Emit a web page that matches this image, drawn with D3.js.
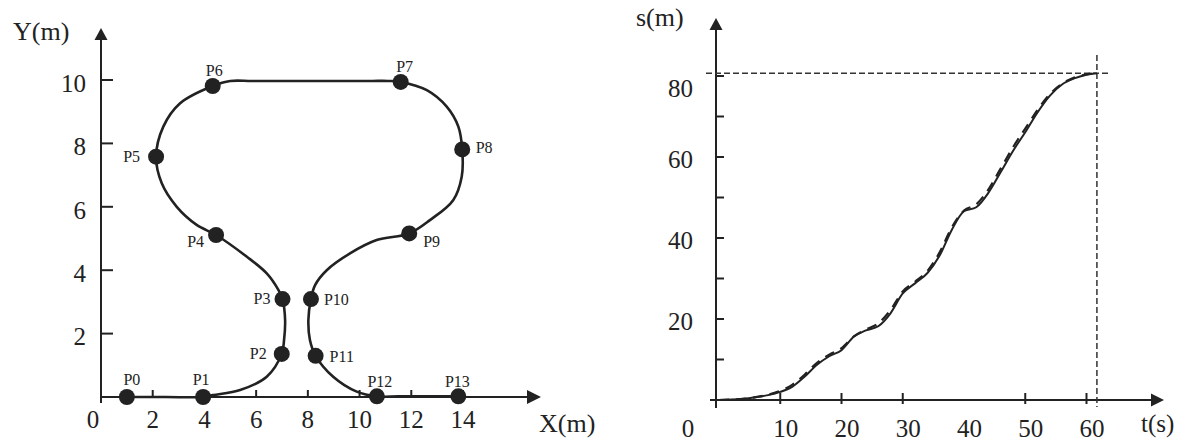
<!DOCTYPE html>
<html>
<head>
<meta charset="utf-8">
<script src="https://cdn.jsdelivr.net/npm/d3@7"></script>
<style>
  html, body { margin: 0; padding: 0; background: #fff; }
  svg { display: block; font-family: "Liberation Serif", "Times New Roman", serif; }
</style>
</head>
<body>
<svg id="chart" width="1185" height="441"></svg>
<script>
// ---------- Route (left panel), metres ----------
const stationNames = ["P0", "P1", "P2", "P3", "P4", "P5", "P6", "P7", "P8", "P9", "P10", "P11", "P12", "P13"];
const stationX = [1, 3.95, 6.99, 7.02, 4.45, 2.13, 4.32, 11.59, 13.97, 11.92, 8.12, 8.3, 10.67, 13.82];
const stationY = [0, 0, 1.36, 3.09, 5.11, 7.58, 9.81, 9.94, 7.81, 5.16, 3.09, 1.3, 0.02, 0.02];

// Centre-line samples of the route, stations included
const routeX = [1, 2.5, 3.95, 4.34, 5.38, 6.41, 6.99, 7.08, 7.12, 7.02, 6.86, 6.41, 5.63, 4.45, 3.7, 2.93, 2.35, 2.13,
  2.41, 3.05, 4.32, 5.0, 5.8, 6.6, 7.4, 8.2, 9.0, 9.8, 10.5, 11.1, 11.59, 12.6, 13.37, 13.82, 13.97, 13.95, 13.62, 12.72,
  11.92, 10.66, 9.63, 8.73, 8.28, 8.12, 8.02, 8.08, 8.3, 8.98, 9.89, 10.67, 11.5, 12.3, 13.1, 13.82];
const routeY = [0, 0, 0, 0.06, 0.22, 0.64, 1.36, 1.8, 2.43, 3.09, 3.38, 3.9, 4.43, 5.11, 5.43, 6.0, 6.74, 7.58,
  8.53, 9.26, 9.81, 9.97, 9.97, 9.97, 9.97, 9.97, 9.97, 9.97, 9.97, 9.97, 9.94, 9.68, 9.16, 8.53, 7.81, 6.95, 6.21, 5.58,
  5.16, 4.95, 4.53, 4.0, 3.53, 3.09, 2.43, 1.8, 1.3, 0.64, 0.17, 0.02, 0.02, 0.02, 0.02, 0.02];

const routeXTicks = [2, 4, 6, 8, 10, 12, 14];
const routeYTicks = [2, 4, 6, 8, 10];

// ---------- Distance over time (right panel) ----------
const timeS = [0, 2, 4, 6, 8, 10, 12, 14, 16, 18, 20, 22, 24, 26, 28, 30, 32, 34, 36, 38, 40, 42, 44, 46, 48, 50, 52, 54, 56, 58, 60, 61.7];
const distActual = [0, 0.1, 0.3, 0.7, 1.2, 2.0, 3.3, 5.8, 8.7, 10.8, 12.3, 15.6, 17.2, 18.2, 21.4, 26.3, 28.8, 31.3, 35.6, 42.0, 46.6, 47.6, 51.2, 56.3, 61.5, 66.1, 71.0, 75.1, 77.9, 79.4, 80.3, 80.7];
const distPlanned = [0, 0.1, 0.3, 0.7, 1.3, 2.3, 3.8, 6.3, 9.2, 11.2, 12.8, 15.7, 17.4, 18.9, 22.2, 26.8, 29.2, 31.8, 36.4, 42.6, 46.8, 48.3, 52.0, 57.2, 62.4, 67.0, 71.6, 75.5, 78.1, 79.6, 80.4, 80.7];

const timeTicks = [10, 20, 30, 40, 50, 60];
const timeTickMarks = [10, 20, 30, 50, 60];
const distTickMarks = [10, 20, 30, 40, 50, 60, 70, 80];
const distTickLabels = [20, 40, 60, 80];
const endTime = 61.7;
const endDist = 80.7;

// ---------- Drawing ----------
const ink = "#222";
const svg = d3.select("#chart");

function arrow(g, pts) {
  g.append("path").attr("d", "M" + pts.map(p => p.join(",")).join("L") + "Z").attr("fill", ink);
}
function label(g, x, y, txt, size, anchor) {
  return g.append("text").attr("x", x).attr("y", y)
    .attr("text-anchor", anchor || "start")
    .style("font-size", size + "px").attr("fill", ink).text(txt);
}

// ===== Left panel: route in the plane =====
const xR = d3.scaleLinear().domain([0, 14]).range([101, 463]);
const yR = d3.scaleLinear().domain([0, 10]).range([397, 80]);
const L = svg.append("g");

// axes
L.append("line").attr("x1", xR(0)).attr("x2", xR(0)).attr("y1", yR(0) + 6).attr("y2", 39)
  .attr("stroke", ink).attr("stroke-width", 2);
arrow(L, [[xR(0), 28], [xR(0) - 6.5, 40], [xR(0) + 6.5, 40]]);
L.append("line").attr("x1", xR(0)).attr("x2", 528).attr("y1", yR(0)).attr("y2", yR(0))
  .attr("stroke", ink).attr("stroke-width", 2);
arrow(L, [[541, yR(0)], [527, yR(0) - 7], [527, yR(0) + 7]]);

L.selectAll(".xt").data(routeXTicks).join("line")
  .attr("x1", d => xR(d)).attr("x2", d => xR(d)).attr("y1", yR(0)).attr("y2", yR(0) - 7)
  .attr("stroke", ink).attr("stroke-width", 2);
L.selectAll(".yt").data(routeYTicks).join("line")
  .attr("x1", xR(0)).attr("x2", xR(0) + 12).attr("y1", d => yR(d)).attr("y2", d => yR(d))
  .attr("stroke", ink).attr("stroke-width", 2);

L.selectAll(".xl").data(routeXTicks).join("text")
  .attr("x", d => xR(d)).attr("y", 428).attr("text-anchor", "middle")
  .style("font-size", "25px").attr("fill", ink).text(d => d);
L.selectAll(".yl").data(routeYTicks).join("text")
  .attr("x", 86).attr("y", d => yR(d) + 3).attr("dy", "0.35em").attr("text-anchor", "end")
  .style("font-size", "25px").attr("fill", ink).text(d => d);
label(L, 93, 428, "0", 25, "middle");
label(L, 13, 40, "Y(m)", 26);
label(L, 539, 432, "X(m)", 26);

// route line
const routePts = routeX.map((x, i) => [x, routeY[i]]);
L.append("path").datum(routePts)
  .attr("d", d3.line().x(d => xR(d[0])).y(d => yR(d[1])).curve(d3.curveCatmullRom.alpha(0.5)))
  .attr("fill", "none").attr("stroke", ink).attr("stroke-width", 2.6);

// stations
const stations = stationNames.map((n, i) => ({ name: n, x: stationX[i], y: stationY[i] }));
L.selectAll(".st").data(stations).join("circle")
  .attr("cx", d => xR(d.x)).attr("cy", d => yR(d.y)).attr("r", 8).attr("fill", ink);

// label placement around each station: [dx, dy, anchor]
const stationLabelPos = [
  [5, -12, "middle"], [-2, -12, "middle"], [-15, 5.5, "end"], [-12, 5, "end"],
  [-12, 11.5, "end"], [-16, 5.5, "end"], [1.5, -10, "middle"], [4, -9.5, "middle"],
  [13.5, 4, "start"], [14, 13.5, "start"], [13, 6, "start"], [14, 6, "start"],
  [3, -9.7, "middle"], [-1, -9.7, "middle"]
];
L.selectAll(".sl").data(stations).join("text")
  .attr("x", (d, i) => xR(d.x) + stationLabelPos[i][0])
  .attr("y", (d, i) => yR(d.y) + stationLabelPos[i][1])
  .attr("text-anchor", (d, i) => stationLabelPos[i][2])
  .style("font-size", "16px").attr("fill", ink).text(d => d.name);

// ===== Right panel: travelled distance vs time =====
const xT = d3.scaleLinear().domain([0, 60]).range([719, 1086.5]);
const yS = d3.scaleLinear().domain([0, 80]).range([400, 76]);
const R = svg.append("g");
const axisX = 716;

R.append("line").attr("x1", axisX).attr("x2", axisX).attr("y1", yS(0) + 8).attr("y2", 30)
  .attr("stroke", ink).attr("stroke-width", 2);
arrow(R, [[axisX, 18], [axisX - 6.5, 30], [axisX + 6.5, 30]]);
R.append("line").attr("x1", axisX - 6).attr("x2", 1152).attr("y1", yS(0)).attr("y2", yS(0))
  .attr("stroke", ink).attr("stroke-width", 2);
arrow(R, [[1164, yS(0)], [1151, yS(0) - 6.5], [1151, yS(0) + 6.5]]);

R.selectAll(".xt").data(timeTickMarks).join("line")
  .attr("x1", d => xT(d)).attr("x2", d => xT(d)).attr("y1", yS(0) - 7).attr("y2", yS(0) + 4)
  .attr("stroke", ink).attr("stroke-width", 2);
R.selectAll(".yt").data(distTickMarks).join("line")
  .attr("x1", axisX).attr("x2", axisX + 8).attr("y1", d => yS(d)).attr("y2", d => yS(d))
  .attr("stroke", ink).attr("stroke-width", 2);

R.selectAll(".xl").data(timeTicks).join("text")
  .attr("x", d => xT(d) + 5.5).attr("y", 437).attr("text-anchor", "middle")
  .style("font-size", "25px").attr("fill", ink).text(d => d);
R.selectAll(".yl").data(distTickLabels).join("text")
  .attr("x", 693).attr("y", d => yS(d) + (d === 80 ? 12 : 2)).attr("dy", "0.35em").attr("text-anchor", "end")
  .style("font-size", "25px").attr("fill", ink).text(d => d);
label(R, 688, 437, "0", 25, "middle");
label(R, 636, 26, "s(m)", 26);
label(R, 1141, 432, "t(s)", 25);

// end-of-run guide lines
R.append("line").attr("x1", 706).attr("x2", 1109).attr("y1", yS(endDist)).attr("y2", yS(endDist))
  .attr("stroke", "#333").attr("stroke-width", 1.5).attr("stroke-dasharray", "6,3");
R.append("line").attr("x1", xT(endTime)).attr("x2", xT(endTime)).attr("y1", 55).attr("y2", 407)
  .attr("stroke", "#333").attr("stroke-width", 1.5).attr("stroke-dasharray", "6,3");

const sLine = d3.line().x(d => xT(d[0])).y(d => yS(d[1])).curve(d3.curveMonotoneX);
R.append("path").datum(timeS.map((t, i) => [t, distPlanned[i]]))
  .attr("d", sLine).attr("fill", "none").attr("stroke", ink).attr("stroke-width", 2.2)
  .attr("stroke-dasharray", "10,7");
R.append("path").datum(timeS.map((t, i) => [t, distActual[i]]))
  .attr("d", sLine).attr("fill", "none").attr("stroke", ink).attr("stroke-width", 2);
</script>
</body>
</html>
